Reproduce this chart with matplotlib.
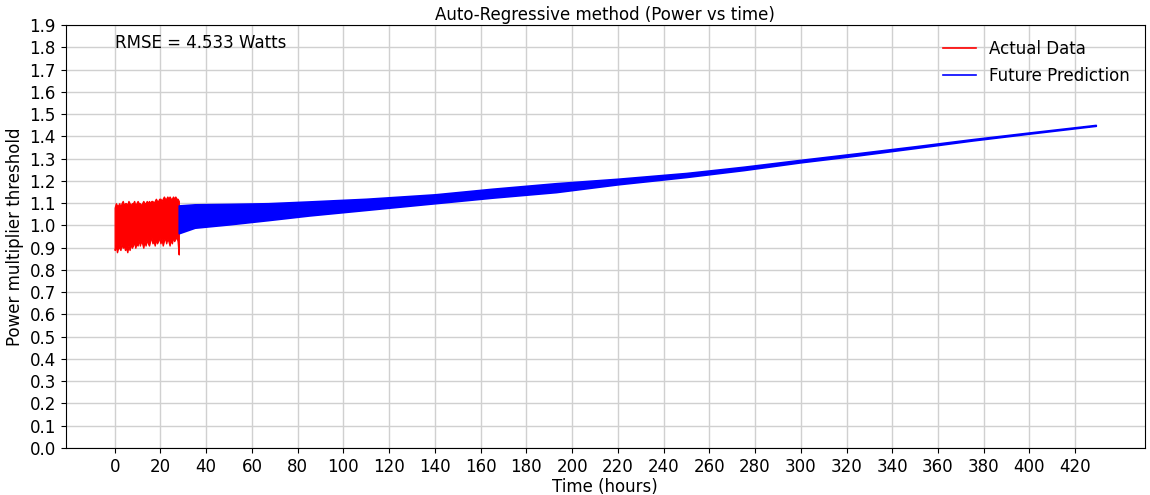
import matplotlib.pyplot as plt
import numpy as np
from matplotlib.lines import Line2D

# measured data: envelope of the oscillating power multiplier (hours 0..28)
actual_hours = np.arange(0, 28.5, 0.5)
actual_upper = [1.08, 1.10, 1.09, 1.09, 1.10, 1.08, 1.10, 1.11, 1.09, 1.10,
                1.10, 1.09, 1.11, 1.10, 1.09, 1.10, 1.10, 1.11, 1.09, 1.10,
                1.11, 1.10, 1.10, 1.09, 1.10, 1.11, 1.10, 1.10, 1.11, 1.10,
                1.11, 1.10, 1.11, 1.11, 1.10, 1.11, 1.12, 1.11, 1.11, 1.12,
                1.12, 1.11, 1.12, 1.13, 1.12, 1.12, 1.13, 1.12, 1.13, 1.12,
                1.12, 1.13, 1.12, 1.13, 1.12, 1.12, 1.11]
actual_lower = [0.89, 0.91, 0.88, 0.90, 0.90, 0.89, 0.92, 0.90, 0.91, 0.89,
                0.90, 0.88, 0.91, 0.89, 0.92, 0.90, 0.91, 0.93, 0.90, 0.92,
                0.91, 0.94, 0.91, 0.93, 0.92, 0.90, 0.93, 0.91, 0.94, 0.92,
                0.91, 0.93, 0.95, 0.92, 0.93, 0.91, 0.94, 0.92, 0.93, 0.95,
                0.92, 0.94, 0.91, 0.93, 0.95, 0.92, 0.94, 0.93, 0.91, 0.94,
                0.92, 0.95, 0.93, 0.94, 0.95, 0.93, 0.87]

# AR forecast envelope
pred_hours = [28, 35, 50, 67, 85, 110, 140, 165, 193, 220, 250, 275,
              300, 325, 350, 375, 400, 429]
pred_upper = [1.09, 1.095, 1.097, 1.10, 1.108, 1.12, 1.14, 1.165, 1.19,
              1.21, 1.236, 1.264, 1.295, 1.325, 1.356, 1.388, 1.418, 1.452]
pred_lower = [0.965, 0.99, 1.005, 1.024, 1.045, 1.07, 1.10, 1.125, 1.15,
              1.185, 1.218, 1.249, 1.284, 1.315, 1.348, 1.382, 1.413, 1.448]

rmse = 4.533
x_ticks = np.arange(0, 421, 20)
y_ticks = np.round(np.arange(0, 1.91, 0.1), 1)

fig = plt.figure(figsize=(11.5, 4.95), dpi=100)
ax = fig.add_axes([0.057, 0.095, 0.9386, 0.854])

ax.fill_between(actual_hours, actual_lower, actual_upper, color='red',
                edgecolor='red', linewidth=1.0)
ax.fill_between(pred_hours, pred_lower, pred_upper, color='blue',
                edgecolor='blue', linewidth=1.2)

ax.set_xlim(-21.5, 450.5)
ax.set_ylim(0, 1.9)
ax.set_xticks(x_ticks)
ax.set_yticks(y_ticks)
ax.tick_params(labelsize=12)
ax.grid(True, color='#d0d0d0', linewidth=1.0)
ax.set_axisbelow(True)

ax.set_title('Auto-Regressive method (Power vs time)', fontsize=12, pad=4)
ax.set_xlabel('Time (hours)', fontsize=12, labelpad=2)
ax.set_ylabel('Power multiplier threshold', fontsize=12, labelpad=4)
ax.text(0.046, 0.957, 'RMSE = %.3f Watts' % rmse, transform=ax.transAxes,
        fontsize=12, va='center', ha='left')

handles = [Line2D([], [], color='red', linewidth=1.2),
           Line2D([], [], color='blue', linewidth=1.2)]
ax.legend(handles, ['Actual Data', 'Future Prediction'], loc='upper right',
          fontsize=12, frameon=False)

plt.savefig('out.png', dpi=100)
